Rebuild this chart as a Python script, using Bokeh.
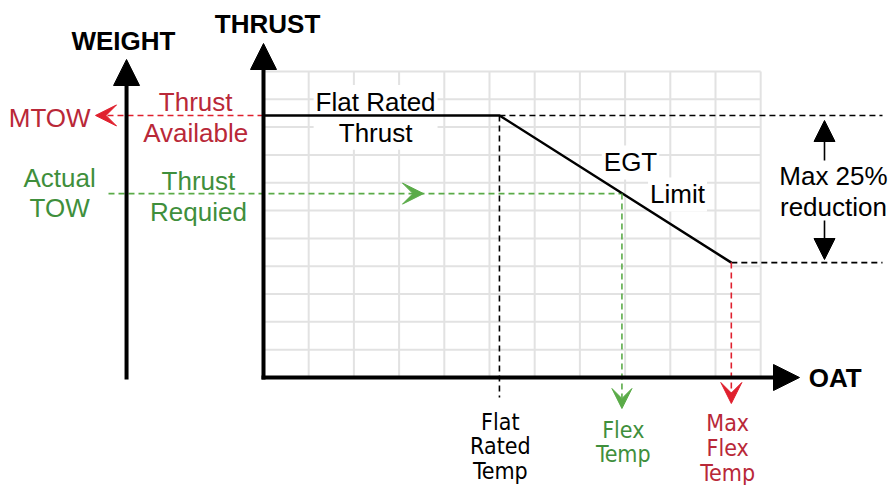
from bokeh.plotting import figure
from bokeh.models import Range1d, Arrow, NormalHead, VeeHead
from bokeh.core.properties import value
from bokeh.embed import file_html
from bokeh.resources import INLINE

# ---- diagram data (grid units: OAT horizontal, thrust vertical) ----
oat_grid = list(range(1, 12))
thrust_grid = list(range(1, 12))
grid_max = 11
flat_rated_thrust = 9.42
flat_rated_temp = 5.22
max_flex_temp = 10.35
max_flex_thrust = 4.13
flex_temp = 7.93
thrust_required = 6.61
weight_axis_x = -3.03

curve_x = [0, flat_rated_temp, max_flex_temp]
curve_y = [flat_rated_thrust, flat_rated_thrust, max_flex_thrust]

RED = "#e0202e"
RED_TXT = "#b92838"
GREEN = "#5aab48"
GREEN_TXT = "#3f8f3c"
GRID = "#e2e2e2"
FONT = "Liberation Sans"
NARROW = "'DejaVu Sans Condensed', 'Liberation Sans Narrow', 'Liberation Sans'"

# layout: pixel scale of the grid
ORIGIN_PX = (263, 377)
UNIT_PX = (45.2, 27.82)
W, H = 891, 485


def xr(px):
    return (px - ORIGIN_PX[0]) / UNIT_PX[0]


def yr(py):
    return (ORIGIN_PX[1] - py) / UNIT_PX[1]


p = figure(width=W, height=H, output_backend="svg", toolbar_location=None,
           x_range=Range1d(xr(0), xr(W)), y_range=Range1d(yr(H), yr(0)),
           min_border=0)
p.axis.visible = False
p.grid.visible = False
p.outline_line_color = None
p.background_fill_color = "white"

# grid
p.segment(x0=oat_grid, y0=[0] * len(oat_grid), x1=oat_grid, y1=[grid_max] * len(oat_grid),
          line_color=GRID, line_width=2)
p.segment(x0=[0] * len(thrust_grid), y0=thrust_grid, x1=[grid_max] * len(thrust_grid), y1=thrust_grid,
          line_color=GRID, line_width=2)


def label(x, y, t, color="black", font=FONT, style="normal", bg=None, size="26px", lh=1.03):
    kw = {}
    if bg:
        kw = dict(background_fill_color=bg, padding=2)
    p.text(x=[x], y=[y], text=[t], text_color=color, text_font=value(font),
           text_font_size=size, text_font_style=style, text_align="center",
           text_baseline="middle", text_line_height=lh, **kw)


# labels with white background (drawn before lines)
label(2.48, 9.35, "Flat Rated\nThrust", bg="white")
label(8.12, 7.73, "EGT", bg="white")
label(9.16, 6.58, "Limit", bg="white")

# dashed guide lines
p.line([flat_rated_temp, xr(882)], [flat_rated_thrust] * 2, line_color="black", line_width=1.6, line_dash="6 4")
p.line([max_flex_temp, xr(882)], [max_flex_thrust] * 2, line_color="black", line_width=1.6, line_dash="6 4")
p.line([flat_rated_temp] * 2, [flat_rated_thrust, yr(397)], line_color="black", line_width=1.6, line_dash="6 4")
p.line([xr(108), flex_temp], [thrust_required] * 2, line_color=GREEN, line_width=1.6, line_dash="6 4")

# arrows with dashed shafts
p.add_layout(Arrow(x_start=0, y_start=flat_rated_thrust, x_end=xr(95), y_end=flat_rated_thrust,
                   line_color=RED, line_width=1.6, line_dash="6 4",
                   end=VeeHead(size=21, fill_color=RED, line_color=RED, line_width=1)))
p.add_layout(Arrow(x_start=flex_temp, y_start=thrust_required, x_end=flex_temp, y_end=yr(408),
                   line_color=GREEN, line_width=1.6, line_dash="6 4",
                   end=VeeHead(size=20, fill_color=GREEN, line_color=GREEN, line_width=1)))
p.add_layout(Arrow(x_start=max_flex_temp, y_start=max_flex_thrust, x_end=max_flex_temp, y_end=yr(403),
                   line_color=RED, line_width=1.6, line_dash="6 4",
                   end=VeeHead(size=21, fill_color=RED, line_color=RED, line_width=1)))
p.add_layout(Arrow(x_start=xr(400), y_start=thrust_required, x_end=xr(423), y_end=thrust_required,
                   line_alpha=0,
                   end=VeeHead(size=21, fill_color=GREEN, line_color=GREEN, line_width=1)))

# thrust curve
p.line(curve_x, curve_y, line_color="black", line_width=2.5)

# axes
for xs, ys, xe, ye in [(weight_axis_x, yr(379), weight_axis_x, yr(59)),
                       (0, yr(379), 0, yr(43)),
                       (xr(261), 0, xr(799), 0)]:
    p.add_layout(Arrow(x_start=xs, y_start=ys, x_end=xe, y_end=ye, line_color="black", line_width=4,
                       end=NormalHead(size=26, fill_color="black", line_color="black", line_width=1)))

# max 25% reduction arrows
p.add_layout(Arrow(x_start=xr(824), y_start=yr(160), x_end=xr(824), y_end=yr(120), line_color="black",
                   line_width=1.6, end=NormalHead(size=21, fill_color="black", line_color="black", line_width=1)))
p.add_layout(Arrow(x_start=xr(824), y_start=yr(220), x_end=xr(824), y_end=yr(259), line_color="black",
                   line_width=1.6, end=NormalHead(size=21, fill_color="black", line_color="black", line_width=1)))

# text labels
label(-3.10, 12.11, "WEIGHT", style="bold")
label(0.09, 12.72, "THRUST", style="bold")
label(12.65, 0.0, "OAT", style="bold")
label(-4.73, 9.31, "MTOW", color=RED_TXT)
label(-1.50, 9.33, "Thrust\nAvailable", color=RED_TXT)
label(-4.51, 6.63, "Actual\nTOW", color=GREEN_TXT)
label(-1.44, 6.49, "Thrust\nRequied", color=GREEN_TXT)
label(12.61, 6.70, "Max 25%\nreduction")
label(5.24, -2.48, "Flat\nRated\nTemp", font=NARROW, size="23px", lh=0.95)
label(7.96, -2.32, "Flex\nTemp", color=GREEN_TXT, font=NARROW, size="23px", lh=0.95)
label(10.27, -2.53, "Max\nFlex\nTemp", color=RED_TXT, font=NARROW, size="23px", lh=0.95)

open("out.html", "w").write(file_html(p, INLINE))
